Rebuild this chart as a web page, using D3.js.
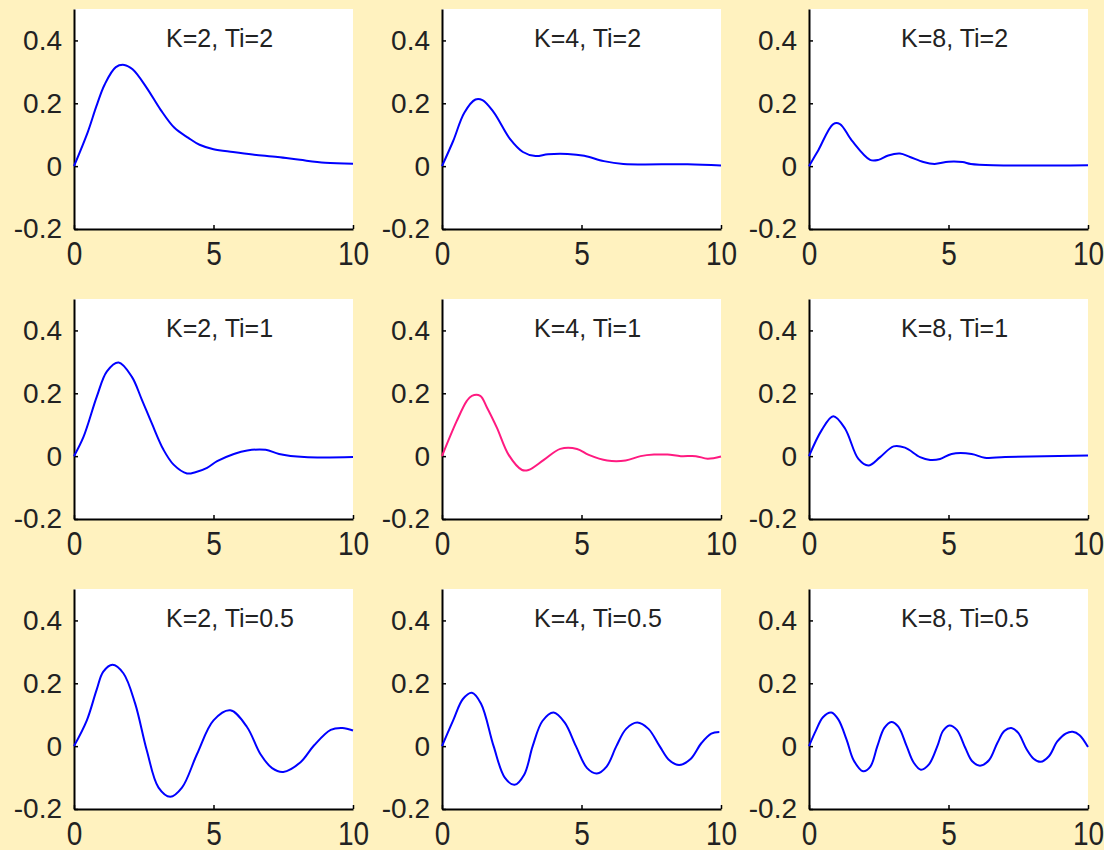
<!DOCTYPE html>
<html>
<head>
<meta charset="utf-8">
<script src="https://cdn.jsdelivr.net/npm/d3@7"></script>
<style>
  body { margin: 0; background: #fff2bf; }
  svg { display: block; }
  .tick text { font-family: "Liberation Sans", Arial, sans-serif; fill: #222; }
</style>
</head>
<body>
<div id="chart"></div>
<script>
// gains and integral times for the 3x3 grid (columns = K, rows = Ti)
const gains = [2, 4, 8];
const integralTimes = [2, 1, 0.5];
const xTicks = [0, 5, 10];
const yTicks = [-0.2, 0, 0.2, 0.4];

// [t, y] samples
const k2ti2 = [[0,0],[0.5,0.11],[0.8,0.19],[1.1,0.26],[1.5,0.315],[1.8,0.322],[2.1,0.308],[2.6,0.25],[3.1,0.18],[3.6,0.122],[4.1,0.09],[4.5,0.068],[5,0.054],[5.7,0.045],[6.4,0.037],[7.3,0.029],[8.1,0.02],[9,0.011],[10,0.008]];
const k4ti2 = [[0,0],[0.4,0.08],[0.8,0.17],[1.2,0.212],[1.45,0.21],[1.85,0.172],[2.45,0.085],[2.9,0.045],[3.35,0.032],[3.8,0.038],[4.5,0.039],[5.1,0.033],[5.8,0.016],[6.5,0.007],[8.8,0.006],[10,0.002]];
const k8ti2 = [[0,0],[0.33,0.05],[0.87,0.134],[1.11,0.134],[1.53,0.082],[2.19,0.02],[2.49,0.02],[2.84,0.034],[3.26,0.04],[3.62,0.029],[4.1,0.013],[4.5,0.007],[5,0.014],[5.5,0.013],[5.8,0.007],[6.6,0.003],[10,0.003]];
const k2ti1 = [[0,0],[0.34,0.061],[0.82,0.19],[1.18,0.27],[1.6,0.298],[2.07,0.253],[2.43,0.18],[2.79,0.104],[3.21,0.02],[3.57,-0.027],[4.05,-0.055],[4.35,-0.051],[4.77,-0.037],[5.13,-0.016],[5.73,0.007],[6.21,0.018],[6.87,0.02],[7.35,0.007],[8.25,-0.003],[10,-0.003]];
const k4ti1 = [[0,0],[0.53,0.112],[0.89,0.176],[1.07,0.192],[1.37,0.192],[1.61,0.155],[1.97,0.09],[2.39,0.004],[2.87,-0.044],[3.1,-0.044],[3.65,-0.012],[4.24,0.023],[4.84,0.023],[5.26,0.004],[5.92,-0.014],[6.58,-0.014],[7.12,0],[7.6,0.005],[8.08,0.005],[8.56,0],[9.1,0],[9.52,-0.008],[10,-0.001]];
const k8ti1 = [[0,0],[0.45,0.082],[0.87,0.127],[1.29,0.088],[1.77,-0.009],[2.13,-0.03],[2.55,-0.003],[3.03,0.031],[3.44,0.027],[3.98,-0.003],[4.34,-0.012],[4.7,-0.009],[5.11,0.007],[5.83,0.007],[6.3,-0.005],[7.03,-0.003],[10,0.002]];
const k2ti05 = [[0,0],[0.46,0.082],[0.81,0.179],[1.05,0.237],[1.38,0.259],[1.77,0.232],[2.19,0.136],[2.61,-0.014],[3.03,-0.132],[3.45,-0.161],[3.87,-0.132],[4.41,-0.025],[5,0.082],[5.6,0.114],[6.2,0.061],[6.68,-0.025],[7.1,-0.07],[7.5,-0.082],[8.12,-0.051],[8.6,0.002],[9.2,0.052],[9.62,0.058],[10,0.05]];
const k4ti05 = [[0,0],[0.4,0.082],[0.75,0.15],[1.07,0.17],[1.4,0.135],[1.85,0],[2.25,-0.1],[2.6,-0.123],[2.95,-0.09],[3.25,0],[3.6,0.08],[4,0.107],[4.4,0.075],[4.8,0],[5.2,-0.07],[5.55,-0.087],[5.9,-0.065],[6.25,0],[6.6,0.055],[7,0.075],[7.4,0.055],[7.8,0],[8.15,-0.045],[8.5,-0.06],[8.9,-0.042],[9.3,0.01],[9.65,0.04],[9.94,0.045]];
const k8ti05 = [[0,0],[0.25,0.05],[0.5,0.092],[0.8,0.107],[1.05,0.085],[1.35,0.02],[1.6,-0.045],[1.94,-0.08],[2.2,-0.065],[2.45,0],[2.7,0.058],[2.95,0.077],[3.2,0.062],[3.5,0],[3.75,-0.052],[4.01,-0.075],[4.3,-0.058],[4.6,0],[4.8,0.048],[5.03,0.066],[5.3,0.052],[5.6,-0.005],[5.85,-0.048],[6.13,-0.062],[6.45,-0.045],[6.75,0.01],[7,0.048],[7.25,0.058],[7.5,0.042],[7.8,-0.01],[8.05,-0.04],[8.3,-0.05],[8.6,-0.032],[8.9,0.015],[9.2,0.04],[9.45,0.046],[9.7,0.035],[10,-0.003]];

// rows follow integralTimes, columns follow gains
const series = [
    [k2ti2, k4ti2, k8ti2],
    [k2ti1, k4ti1, k8ti1],
    [k2ti05, k4ti05, k8ti05]
];

// layout of the subplots
const width = 1104, height = 850;
const colLeft = [74, 442, 809];
const rowTop = [9, 299, 589];
const pw = 279, ph = 220;

const svg = d3.select("#chart")
    .append("svg")
    .attr("width", width)
    .attr("height", height);

svg.append("rect")
    .attr("width", width)
    .attr("height", height)
    .attr("fill", "#fff2bf");

const x = d3.scaleLinear().domain([0, 10]).range([0, pw]);
const y = d3.scaleLinear().domain([-0.2, 0.5]).range([ph, 0]);

const line = d3.line()
    .x(d => x(d[0]))
    .y(d => y(d[1]))
    .curve(d3.curveCatmullRom.alpha(0.5));

integralTimes.forEach((ti, r) => {
    gains.forEach((k, c) => {
        const g = svg.append("g")
            .attr("transform", `translate(${colLeft[c]},${rowTop[r]})`);

        // white plot area
        g.append("rect")
            .attr("width", pw)
            .attr("height", ph)
            .attr("fill", "#fff");

        // y axis, ticks pointing inward
        g.append("g")
            .call(d3.axisLeft(y)
                .tickValues(yTicks)
                .tickFormat(d => String(+d.toFixed(1)))
                .tickSizeInner(-4)
                .tickSizeOuter(0)
                .tickPadding(12))
            .call(a => a.select(".domain").attr("stroke", "#000").attr("stroke-width", 2))
            .call(a => a.selectAll(".tick line").attr("stroke", "#000").attr("stroke-width", 1.5))
            .selectAll(".tick text")
            .style("font-size", "28px");

        // x axis
        g.append("g")
            .attr("transform", `translate(0,${ph})`)
            .call(d3.axisBottom(x)
                .tickValues(xTicks)
                .tickFormat(d3.format("d"))
                .tickSizeInner(-4)
                .tickSizeOuter(0)
                .tickPadding(0))
            .call(a => a.select(".domain").attr("stroke", "#000").attr("stroke-width", 2))
            .call(a => a.selectAll(".tick line").attr("stroke", "#000").attr("stroke-width", 1.5))
            .selectAll(".tick text")
            .style("font-size", "28px")
            .attr("y", 0)
            .attr("dy", null)
            .attr("transform", "translate(0,36) scale(1,1.18)");

        // response curve (the K=4, Ti=1 one is highlighted)
        g.append("path")
            .datum(series[r][c])
            .attr("fill", "none")
            .attr("stroke", (k === 4 && ti === 1) ? "#ff1a80" : "#0000ff")
            .attr("stroke-width", 2)
            .attr("d", line);

        // panel label
        g.append("text")
            .attr("x", x(3.3))
            .attr("y", y(0.38))
            .style("font-family", "'Liberation Sans', Arial, sans-serif")
            .style("font-size", "25px")
            .attr("fill", "#222")
            .text(`K=${k}, Ti=${ti}`);
    });
});
</script>
</body>
</html>
